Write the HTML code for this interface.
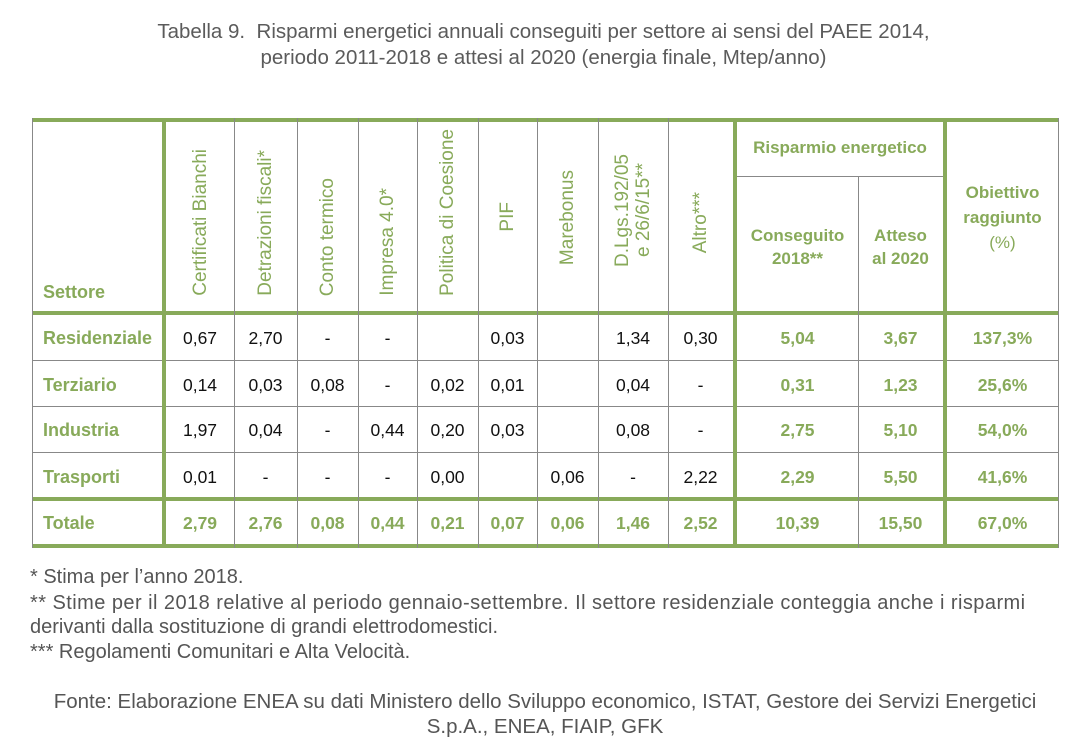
<!DOCTYPE html>
<html><head><meta charset="utf-8"><style>
body{margin:0;width:1087px;height:744px;background:#fff;position:relative;overflow:hidden;font-family:"Liberation Sans",sans-serif}
.a{position:absolute}
.t{color:#5b5b5b;font-size:20.5px;text-align:center;width:1087px;left:0}
.hl{position:absolute;background:#88aa5a}
.vl{position:absolute;background:#888;width:1px}
.rh{position:absolute;display:flex;align-items:flex-end;justify-content:center;color:#88aa5a;font-size:19px;top:124px;height:172px}
.rh span{writing-mode:vertical-rl;transform:rotate(180deg);text-align:center;line-height:21px;white-space:nowrap}
.c{position:absolute;text-align:center;font-size:17.5px;color:#111;height:20px;line-height:20px}
.g{color:#88aa5a;font-weight:bold}
.s{position:absolute;left:43px;color:#88aa5a;font-weight:bold;font-size:18px;line-height:20px}
.f{position:absolute;color:#555;font-size:20px;line-height:22px;left:30px;white-space:nowrap}
</style></head><body>
<div class="a t" style="top:20px">Tabella 9.&nbsp; Risparmi energetici annuali conseguiti per settore ai sensi del PAEE 2014,</div>
<div class="a t" style="top:46px">periodo 2011-2018 e attesi al 2020 (energia finale, Mtep/anno)</div>

<div class="hl" style="left:32px;width:1027px;top:118px;height:4px"></div>
<div class="hl" style="left:32px;width:1027px;top:311px;height:4px"></div>
<div class="a" style="left:32px;width:1027px;top:360px;height:1px;background:#888"></div>
<div class="a" style="left:32px;width:1027px;top:406px;height:1px;background:#888"></div>
<div class="a" style="left:32px;width:1027px;top:452px;height:1px;background:#888"></div>
<div class="hl" style="left:32px;width:1027px;top:497px;height:4px"></div>
<div class="hl" style="left:32px;width:1027px;top:544px;height:4px"></div>
<div class="a" style="left:736px;width:210px;top:176px;height:1px;background:#888"></div>

<div class="vl" style="left:32px;top:118px;height:430px"></div>
<div class="hl" style="left:162px;top:118px;height:430px;width:4px"></div>
<div class="vl" style="left:234px;top:118px;height:430px"></div>
<div class="vl" style="left:297px;top:118px;height:430px"></div>
<div class="vl" style="left:358px;top:118px;height:430px"></div>
<div class="vl" style="left:417px;top:118px;height:430px"></div>
<div class="vl" style="left:478px;top:118px;height:430px"></div>
<div class="vl" style="left:537px;top:118px;height:430px"></div>
<div class="vl" style="left:598px;top:118px;height:430px"></div>
<div class="vl" style="left:668px;top:118px;height:430px"></div>
<div class="hl" style="left:733px;top:118px;height:430px;width:4px"></div>
<div class="vl" style="left:858px;top:176px;height:372px"></div>
<div class="hl" style="left:943px;top:118px;height:430px;width:4px"></div>
<div class="vl" style="left:1058px;top:118px;height:430px"></div>

<div class="s" style="top:282px">Settore</div>
<div class="rh" style="left:166px;width:68px"><span>Certificati Bianchi</span></div>
<div class="rh" style="left:234px;width:63px"><span>Detrazioni fiscali*</span></div>
<div class="rh" style="left:297px;width:61px"><span>Conto termico</span></div>
<div class="rh" style="left:358px;width:59px"><span>Impresa 4.0*</span></div>
<div class="rh" style="left:417px;width:61px"><span>Politica di Coesione</span></div>
<div class="rh" style="left:478px;width:59px;height:107px;top:125px"><span>PIF</span></div>
<div class="rh" style="left:537px;width:61px;height:140px;top:125px"><span>Marebonus</span></div>
<div class="rh" style="left:598px;width:70px;height:142px;top:125px"><span>D.Lgs.192/05<br>e 26/6/15**</span></div>
<div class="rh" style="left:668px;width:65px;height:128px;top:125px"><span>Altro***</span></div>
<div class="c g" style="left:737px;width:206px;top:138px;font-size:17px">Risparmio energetico</div>
<div class="c g" style="left:737px;width:121px;top:224px;line-height:23px;height:46px;font-size:17px">Conseguito<br>2018**</div>
<div class="c g" style="left:858px;width:85px;top:224px;line-height:23px;height:46px;font-size:17px">Atteso<br>al 2020</div>
<div class="c g" style="left:947px;width:111px;top:180px;line-height:25px;height:75px;font-size:17px">Obiettivo<br>raggiunto<br><span style="font-weight:normal">(%)</span></div>

<div class="s" style="top:328px">Residenziale</div>
<div class="s" style="top:375px">Terziario</div>
<div class="s" style="top:420px">Industria</div>
<div class="s" style="top:467px">Trasporti</div>
<div class="s" style="top:513px">Totale</div>

<div class="c" style="left:166px;width:68px;top:328px">0,67</div>
<div class="c" style="left:234px;width:63px;top:328px">2,70</div>
<div class="c" style="left:297px;width:61px;top:328px">-</div>
<div class="c" style="left:358px;width:59px;top:328px">-</div>
<div class="c" style="left:478px;width:59px;top:328px">0,03</div>
<div class="c" style="left:598px;width:70px;top:328px">1,34</div>
<div class="c" style="left:668px;width:65px;top:328px">0,30</div>
<div class="c g" style="left:737px;width:121px;top:328px">5,04</div>
<div class="c g" style="left:858px;width:85px;top:328px">3,67</div>
<div class="c g" style="left:947px;width:111px;top:328px">137,3%</div>

<div class="c" style="left:166px;width:68px;top:375px">0,14</div>
<div class="c" style="left:234px;width:63px;top:375px">0,03</div>
<div class="c" style="left:297px;width:61px;top:375px">0,08</div>
<div class="c" style="left:358px;width:59px;top:375px">-</div>
<div class="c" style="left:417px;width:61px;top:375px">0,02</div>
<div class="c" style="left:478px;width:59px;top:375px">0,01</div>
<div class="c" style="left:598px;width:70px;top:375px">0,04</div>
<div class="c" style="left:668px;width:65px;top:375px">-</div>
<div class="c g" style="left:737px;width:121px;top:375px">0,31</div>
<div class="c g" style="left:858px;width:85px;top:375px">1,23</div>
<div class="c g" style="left:947px;width:111px;top:375px">25,6%</div>

<div class="c" style="left:166px;width:68px;top:420px">1,97</div>
<div class="c" style="left:234px;width:63px;top:420px">0,04</div>
<div class="c" style="left:297px;width:61px;top:420px">-</div>
<div class="c" style="left:358px;width:59px;top:420px">0,44</div>
<div class="c" style="left:417px;width:61px;top:420px">0,20</div>
<div class="c" style="left:478px;width:59px;top:420px">0,03</div>
<div class="c" style="left:598px;width:70px;top:420px">0,08</div>
<div class="c" style="left:668px;width:65px;top:420px">-</div>
<div class="c g" style="left:737px;width:121px;top:420px">2,75</div>
<div class="c g" style="left:858px;width:85px;top:420px">5,10</div>
<div class="c g" style="left:947px;width:111px;top:420px">54,0%</div>

<div class="c" style="left:166px;width:68px;top:467px">0,01</div>
<div class="c" style="left:234px;width:63px;top:467px">-</div>
<div class="c" style="left:297px;width:61px;top:467px">-</div>
<div class="c" style="left:358px;width:59px;top:467px">-</div>
<div class="c" style="left:417px;width:61px;top:467px">0,00</div>
<div class="c" style="left:537px;width:61px;top:467px">0,06</div>
<div class="c" style="left:598px;width:70px;top:467px">-</div>
<div class="c" style="left:668px;width:65px;top:467px">2,22</div>
<div class="c g" style="left:737px;width:121px;top:467px">2,29</div>
<div class="c g" style="left:858px;width:85px;top:467px">5,50</div>
<div class="c g" style="left:947px;width:111px;top:467px">41,6%</div>

<div class="c g" style="left:166px;width:68px;top:513px">2,79</div>
<div class="c g" style="left:234px;width:63px;top:513px">2,76</div>
<div class="c g" style="left:297px;width:61px;top:513px">0,08</div>
<div class="c g" style="left:358px;width:59px;top:513px">0,44</div>
<div class="c g" style="left:417px;width:61px;top:513px">0,21</div>
<div class="c g" style="left:478px;width:59px;top:513px">0,07</div>
<div class="c g" style="left:537px;width:61px;top:513px">0,06</div>
<div class="c g" style="left:598px;width:70px;top:513px">1,46</div>
<div class="c g" style="left:668px;width:65px;top:513px">2,52</div>
<div class="c g" style="left:737px;width:121px;top:513px">10,39</div>
<div class="c g" style="left:858px;width:85px;top:513px">15,50</div>
<div class="c g" style="left:947px;width:111px;top:513px">67,0%</div>

<div class="f" style="top:566px">* Stima per l’anno 2018.</div>
<div class="f" style="top:592px;letter-spacing:0.45px">** Stime per il 2018 relative al periodo gennaio-settembre. Il settore residenziale conteggia anche i risparmi</div>
<div class="f" style="top:616px">derivanti dalla sostituzione di grandi elettrodomestici.</div>
<div class="f" style="top:641px">*** Regolamenti Comunitari e Alta Velocità.</div>
<div class="f" style="top:691px;left:20px;width:1050px;text-align:center;font-size:20.5px">Fonte: Elaborazione ENEA su dati Ministero dello Sviluppo economico, ISTAT, Gestore dei Servizi Energetici</div>
<div class="f" style="top:716px;left:20px;width:1050px;text-align:center;font-size:20.5px">S.p.A., ENEA, FIAIP, GFK</div>
</body></html>
